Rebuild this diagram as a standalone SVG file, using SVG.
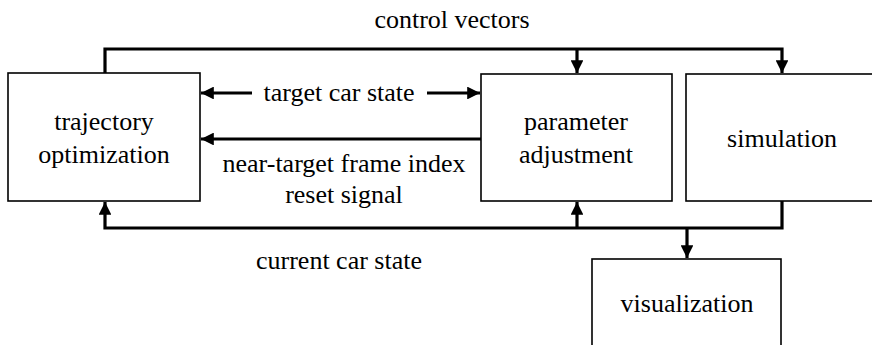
<svg xmlns="http://www.w3.org/2000/svg" width="872" height="345" viewBox="0 0 872 345">
  <style>
    .box { fill: #ffffff; stroke: #000000; stroke-width: 1.6; }
    .label { font-family: "Liberation Serif", "Times New Roman", serif; font-size: 26px; fill: #000000; text-anchor: middle; }
    .wire { fill: none; stroke: #000000; stroke-width: 3.2; }
  </style>
  <defs>
    <marker id="head" viewBox="0 0 10 10" refX="10" refY="5" markerWidth="4" markerHeight="4" markerUnits="strokeWidth" orient="auto">
      <path d="M0,0 L10,5 L0,10 Z" fill="#000000"/>
    </marker>
  </defs>
  <rect width="872" height="345" fill="#ffffff"/>

  <g id="connectors">
    <!-- control vectors bus -->
    <path class="wire" d="M105,73 V49 H782 V73" marker-end="url(#head)"/>
    <path class="wire" d="M577,49 V73" marker-end="url(#head)"/>
    <!-- current car state bus -->
    <path class="wire" d="M782,201 V228 H105 V202" marker-end="url(#head)"/>
    <path class="wire" d="M577,228 V202" marker-end="url(#head)"/>
    <path class="wire" d="M687,228 V258" marker-end="url(#head)"/>
    <!-- target car state -->
    <path class="wire" d="M252,93 H201" marker-end="url(#head)"/>
    <path class="wire" d="M427,93 H480" marker-end="url(#head)"/>
    <!-- near-target frame index / reset signal -->
    <path class="wire" d="M481,139 H201" marker-end="url(#head)"/>
    <text class="label" x="452" y="28">control vectors</text>
    <text class="label" x="339" y="101">target car state</text>
    <text class="label" x="344" y="172">near-target frame index</text>
    <text class="label" x="344" y="203">reset signal</text>
    <text class="label" x="339" y="269">current car state</text>
  </g>

  <g id="trajectory-optimization">
    <rect class="box" x="8" y="73" width="192" height="128"/>
    <text class="label" x="104" y="130">trajectory</text>
    <text class="label" x="104" y="163">optimization</text>
  </g>

  <g id="parameter-adjustment">
    <rect class="box" x="481" y="74" width="191" height="127"/>
    <text class="label" x="576" y="130">parameter</text>
    <text class="label" x="576" y="163">adjustment</text>
  </g>

  <g id="simulation">
    <rect class="box" x="686" y="74" width="200" height="127"/>
    <text class="label" x="782" y="147">simulation</text>
  </g>

  <g id="visualization">
    <rect class="box" x="592" y="259" width="189" height="100"/>
    <text class="label" x="687" y="312">visualization</text>
  </g>
</svg>
